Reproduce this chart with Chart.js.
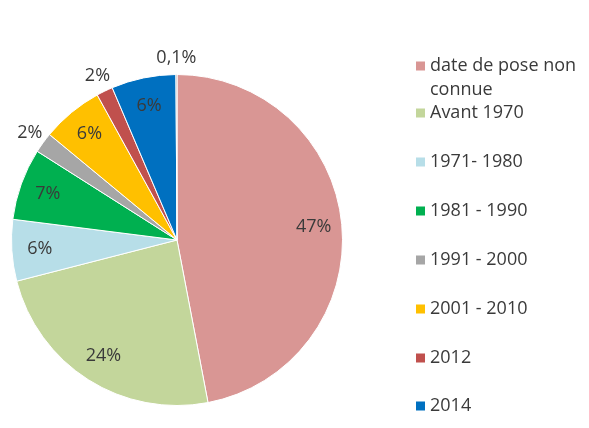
<!DOCTYPE html>
<html>
<head>
<meta charset="utf-8">
<script src="https://cdn.jsdelivr.net/npm/chart.js@4"></script>
<style>
  html, body { margin: 0; padding: 0; background: #fff; }
  #wrap { width: 589px; height: 428px; }
</style>
</head>
<body>
<div id="wrap"><canvas id="pieChart" width="589" height="428"></canvas></div>
<script>
// categories (legend), values in %, and the labels shown on the slices
const categories = ['date de pose non connue', 'Avant 1970', '1971- 1980', '1981 - 1990',
  '1991 - 2000', '2001 - 2010', '2012', '2014', ''];
const legendLines = [['date de pose non', 'connue'], ['Avant 1970'], ['1971- 1980'], ['1981 - 1990'],
  ['1991 - 2000'], ['2001 - 2010'], ['2012'], ['2014']];
const values = [47, 24, 6, 7, 2, 6, 1.6, 6.3, 0.1];
const sliceLabels = ['47%', '24%', '6%', '7%', '2%', '6%', '2%', '6%', '0,1%'];
const colors = ['#D99694', '#C3D69B', '#B7DEE8', '#00B050', '#A6A6A6', '#FFC000', '#C0504D', '#0070C0', '#7F7F7F'];

const FONT = '18px "Open Sans", Lato, sans-serif';
const TEXT = '#3a3a3a';

// labels on / around the slices
const sliceLabelPlugin = {
  id: 'sliceLabels',
  afterDatasetsDraw(chart) {
    const ctx = chart.ctx;
    const meta = chart.getDatasetMeta(0);
    ctx.save();
    ctx.font = FONT;
    ctx.fillStyle = TEXT;
    ctx.textAlign = 'center';
    ctx.textBaseline = 'middle';
    meta.data.forEach(function (arc, i) {
      const p = arc.getProps(['x', 'y', 'startAngle', 'endAngle', 'outerRadius']);
      const mid = (p.startAngle + p.endAngle) / 2;
      const small = values[i] < 3;
      const r = p.outerRadius * (small ? 1.1 : 0.83);
      ctx.fillText(sliceLabels[i], p.x + Math.cos(mid) * r, p.y + Math.sin(mid) * r);
    });
    ctx.restore();
  }
};

// legend on the right, drawn by hand so the first entry can wrap
const legendPlugin = {
  id: 'sideLegend',
  afterDraw(chart) {
    const ctx = chart.ctx;
    const rows = [66, 113, 162, 211, 260, 309, 358, 406];
    ctx.save();
    ctx.font = FONT;
    ctx.textBaseline = 'middle';
    ctx.textAlign = 'left';
    legendLines.forEach(function (lines, i) {
      const y = rows[i];
      ctx.fillStyle = colors[i];
      ctx.fillRect(416, y - 4.5, 9, 9);
      ctx.fillStyle = TEXT;
      lines.forEach(function (t, j) {
        ctx.fillText(t, 430, y + j * 24);
      });
    });
    ctx.restore();
  }
};

const ctx = document.getElementById('pieChart').getContext('2d');
const pieChart = new Chart(ctx, {
  type: 'pie',
  data: {
    labels: categories,
    datasets: [{
      data: values,
      backgroundColor: colors,
      borderColor: '#ffffff',
      borderWidth: 1
    }]
  },
  options: {
    responsive: false,
    animation: false,
    layout: { padding: { left: 11, right: 246, top: 74, bottom: 22 } },
    plugins: {
      legend: { display: false },
      tooltip: { enabled: false }
    }
  },
  plugins: [sliceLabelPlugin, legendPlugin]
});
</script>
</body>
</html>
